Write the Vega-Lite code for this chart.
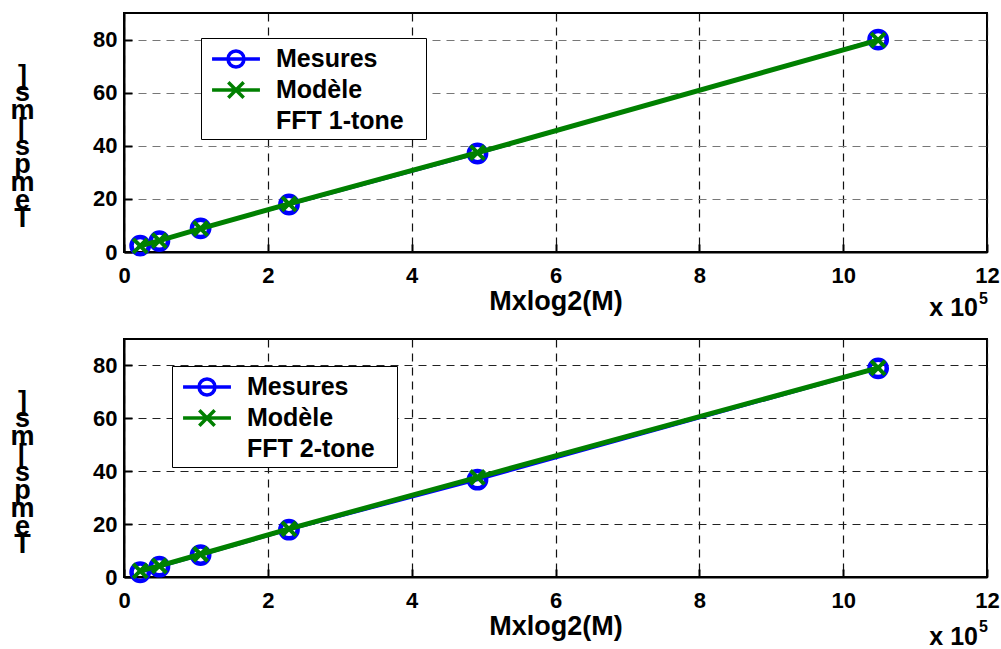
{
  "$schema": "https://vega.github.io/schema/vega-lite/v6.json",
  "padding": {"left": 8, "top": 12, "right": 2, "bottom": 0},
  "background": "white",
  "config": {
    "font": "Liberation Sans",
    "view": {"stroke": "black", "strokeWidth": 2},
    "axis": {
      "labelFont": "Liberation Sans", "labelFontWeight": "bold", "labelColor": "black",
      "titleFont": "Liberation Sans", "titleFontWeight": "bold", "titleColor": "black",
      "domainColor": "black", "domainWidth": 2,
      "tickColor": "black", "tickWidth": 2, "tickSize": -8,
      "grid": true, "gridDash": [8, 6], "gridWidth": 1.2, "gridOpacity": 1
    },
    "legend": {
      "symbolSize": 784, "symbolStrokeWidth": 3.5, "symbolOffset": 14, "labelOffset": 24,
      "labelFont": "Liberation Sans", "labelFontSize": 25, "labelFontWeight": "bold", "labelColor": "black",
      "padding": 5, "strokeColor": "black", "fillColor": "white", "rowPadding": 0, "labelLimit": 400
    }
  },
  "datasets": {
    "d": [
      {"panel": 1, "series": "Mesures", "x": 0.225, "y": 2.4},
      {"panel": 1, "series": "Mesures", "x": 0.492, "y": 4.1},
      {"panel": 1, "series": "Mesures", "x": 1.065, "y": 8.9},
      {"panel": 1, "series": "Mesures", "x": 2.294, "y": 17.9},
      {"panel": 1, "series": "Mesures", "x": 4.915, "y": 37.1},
      {"panel": 1, "series": "Mesures", "x": 10.486, "y": 80.0},
      {"panel": 1, "series": "Modèle", "x": 0.225, "y": 2.3},
      {"panel": 1, "series": "Modèle", "x": 0.492, "y": 4.3},
      {"panel": 1, "series": "Modèle", "x": 1.065, "y": 8.8},
      {"panel": 1, "series": "Modèle", "x": 2.294, "y": 18.1},
      {"panel": 1, "series": "Modèle", "x": 4.915, "y": 37.4},
      {"panel": 1, "series": "Modèle", "x": 10.486, "y": 79.8},
      {"panel": 2, "series": "Mesures", "x": 0.225, "y": 1.8},
      {"panel": 2, "series": "Mesures", "x": 0.492, "y": 3.9},
      {"panel": 2, "series": "Mesures", "x": 1.065, "y": 8.3},
      {"panel": 2, "series": "Mesures", "x": 2.294, "y": 17.9},
      {"panel": 2, "series": "Mesures", "x": 4.915, "y": 36.8},
      {"panel": 2, "series": "Mesures", "x": 10.486, "y": 78.9},
      {"panel": 2, "series": "Modèle", "x": 0.225, "y": 2.3},
      {"panel": 2, "series": "Modèle", "x": 0.492, "y": 4.2},
      {"panel": 2, "series": "Modèle", "x": 1.065, "y": 8.6},
      {"panel": 2, "series": "Modèle", "x": 2.294, "y": 18.2},
      {"panel": 2, "series": "Modèle", "x": 4.915, "y": 37.7},
      {"panel": 2, "series": "Modèle", "x": 10.486, "y": 79.1}
    ]
  },
  "spacing": 16,
  "resolve": {
    "scale": {"shape": "independent", "stroke": "independent"},
    "legend": {"shape": "independent", "stroke": "independent"}
  },
  "vconcat": [
    {
      "width": 863, "height": 239,
      "data": {"name": "d"},
      "encoding": {
        "x": {"field": "x", "type": "quantitative", "scale": {"domain": [0, 12], "nice": false, "zero": false},
          "axis": {"values": [0, 2, 4, 6, 8, 10, 12], "labelFontSize": 22, "labelPadding": 21, "labelFlush": false,
            "title": "Mxlog2(M)", "titleFontSize": 27, "titlePadding": 2, "gridColor": "#111"}},
        "y": {"field": "y", "type": "quantitative", "scale": {"domain": [0, 90], "nice": false},
          "axis": {"values": [0, 20, 40, 60, 80], "labelFontSize": 22, "labelPadding": 15, "gridColor": "#777",
            "title": ["]", "s", "m", "[", "s", "p", "m", "e", "T"], "titleAngle": 0, "titleFontSize": 27,
            "titleLineHeight": 17.9, "titleAlign": "center", "titleBaseline": "top", "titleX": -102, "titleY": 49}}
      },
      "layer": [
        {"transform": [{"filter": "datum.panel == 1 && datum.series == 'Mesures'"}], "mark": {"type": "line", "color": "#0000ff", "strokeWidth": 3}},
        {"transform": [{"filter": "datum.panel == 1 && datum.series == 'Mesures'"}], "mark": {"type": "point", "shape": "circle", "filled": false, "color": "#0000ff", "strokeWidth": 4.5, "size": 300, "opacity": 1}},
        {"transform": [{"filter": "datum.panel == 1 && datum.series == 'Modèle'"}], "mark": {"type": "line", "color": "#008000", "strokeWidth": 5}},
        {"transform": [{"filter": "datum.panel == 1 && datum.series == 'Modèle'"}], "mark": {"type": "point", "shape": "M-1,-1L1,1M1,-1L-1,1", "filled": false, "color": "#008000", "strokeWidth": 4, "size": 196, "opacity": 1}},
        {
          "data": {"values": [{"entry": "Mesures"}, {"entry": "Modèle"}, {"entry": "FFT 1-tone"}]},
          "mark": {"type": "point", "filled": false, "opacity": 1},
          "encoding": {
            "shape": {"field": "entry", "type": "nominal", "title": ".",
              "scale": {"domain": ["Mesures", "Modèle", "FFT 1-tone"], "range": ["M-1.71,0H1.71M-0.57,0A0.57,0.57 0 1,1 0.57,0A0.57,0.57 0 1,1 -0.57,0Z", "M-1.71,0H1.71M-0.55,-0.55L0.55,0.55M-0.55,0.55L0.55,-0.55", "M0,0"]},
              "legend": {"orient": "none", "legendX": 77, "legendY": 25, "title": ".", "titleOrient": "right", "titleColor": "white", "titleFontSize": 14, "titlePadding": 13}},
            "stroke": {"field": "entry", "type": "nominal", "title": ".",
              "scale": {"domain": ["Mesures", "Modèle", "FFT 1-tone"], "range": ["#0000ff", "#008000", "transparent"]},
              "legend": {"orient": "none", "legendX": 77, "legendY": 25, "title": ".", "titleOrient": "right", "titleColor": "white", "titleFontSize": 14, "titlePadding": 13}}
          }
        },
        {"transform": [{"filter": "datum.panel == 1 && datum.series == 'Mesures' && datum.x > 10"}],
          "mark": {"type": "text", "text": "x 10", "align": "right", "baseline": "alphabetic", "dx": -9, "dy": 64, "fontSize": 25, "fontWeight": "bold", "font": "Liberation Sans", "color": "black"},
          "encoding": {"x": {"datum": 12}, "y": {"datum": 0}}},
        {"transform": [{"filter": "datum.panel == 1 && datum.series == 'Mesures' && datum.x > 10"}],
          "mark": {"type": "text", "text": "5", "align": "left", "baseline": "alphabetic", "dx": -8, "dy": 52, "fontSize": 16, "fontWeight": "bold", "font": "Liberation Sans", "color": "black"},
          "encoding": {"x": {"datum": 12}, "y": {"datum": 0}}}
      ]
    },
    {
      "width": 863, "height": 238,
      "data": {"name": "d"},
      "encoding": {
        "x": {"field": "x", "type": "quantitative", "scale": {"domain": [0, 12], "nice": false, "zero": false},
          "axis": {"values": [0, 2, 4, 6, 8, 10, 12], "labelFontSize": 22, "labelPadding": 21, "labelFlush": false,
            "title": "Mxlog2(M)", "titleFontSize": 27, "titlePadding": 2, "gridColor": "#111"}},
        "y": {"field": "y", "type": "quantitative", "scale": {"domain": [0, 90], "nice": false},
          "axis": {"values": [0, 20, 40, 60, 80], "labelFontSize": 22, "labelPadding": 15, "gridColor": "#222",
            "title": ["]", "s", "m", "[", "s", "p", "m", "e", "T"], "titleAngle": 0, "titleFontSize": 27,
            "titleLineHeight": 17.9, "titleAlign": "center", "titleBaseline": "top", "titleX": -102, "titleY": 49}}
      },
      "layer": [
        {"transform": [{"filter": "datum.panel == 2 && datum.series == 'Mesures'"}], "mark": {"type": "line", "color": "#0000ff", "strokeWidth": 3}},
        {"transform": [{"filter": "datum.panel == 2 && datum.series == 'Mesures'"}], "mark": {"type": "point", "shape": "circle", "filled": false, "color": "#0000ff", "strokeWidth": 4.5, "size": 300, "opacity": 1}},
        {"transform": [{"filter": "datum.panel == 2 && datum.series == 'Modèle'"}], "mark": {"type": "line", "color": "#008000", "strokeWidth": 5}},
        {"transform": [{"filter": "datum.panel == 2 && datum.series == 'Modèle'"}], "mark": {"type": "point", "shape": "M-1,-1L1,1M1,-1L-1,1", "filled": false, "color": "#008000", "strokeWidth": 4, "size": 196, "opacity": 1}},
        {
          "data": {"values": [{"entry": "Mesures"}, {"entry": "Modèle"}, {"entry": "FFT 2-tone"}]},
          "mark": {"type": "point", "filled": false, "opacity": 1},
          "encoding": {
            "shape": {"field": "entry", "type": "nominal", "title": ".",
              "scale": {"domain": ["Mesures", "Modèle", "FFT 2-tone"], "range": ["M-1.71,0H1.71M-0.57,0A0.57,0.57 0 1,1 0.57,0A0.57,0.57 0 1,1 -0.57,0Z", "M-1.71,0H1.71M-0.55,-0.55L0.55,0.55M-0.55,0.55L0.55,-0.55", "M0,0"]},
              "legend": {"orient": "none", "legendX": 48, "legendY": 27, "title": ".", "titleOrient": "right", "titleColor": "white", "titleFontSize": 14, "titlePadding": 13}},
            "stroke": {"field": "entry", "type": "nominal", "title": ".",
              "scale": {"domain": ["Mesures", "Modèle", "FFT 2-tone"], "range": ["#0000ff", "#008000", "transparent"]},
              "legend": {"orient": "none", "legendX": 48, "legendY": 27, "title": ".", "titleOrient": "right", "titleColor": "white", "titleFontSize": 14, "titlePadding": 13}}
          }
        },
        {"transform": [{"filter": "datum.panel == 2 && datum.series == 'Mesures' && datum.x > 10"}],
          "mark": {"type": "text", "text": "x 10", "align": "right", "baseline": "alphabetic", "dx": -9, "dy": 68, "fontSize": 25, "fontWeight": "bold", "font": "Liberation Sans", "color": "black"},
          "encoding": {"x": {"datum": 12}, "y": {"datum": 0}}},
        {"transform": [{"filter": "datum.panel == 2 && datum.series == 'Mesures' && datum.x > 10"}],
          "mark": {"type": "text", "text": "5", "align": "left", "baseline": "alphabetic", "dx": -8, "dy": 55, "fontSize": 16, "fontWeight": "bold", "font": "Liberation Sans", "color": "black"},
          "encoding": {"x": {"datum": 12}, "y": {"datum": 0}}}
      ]
    }
  ]
}
